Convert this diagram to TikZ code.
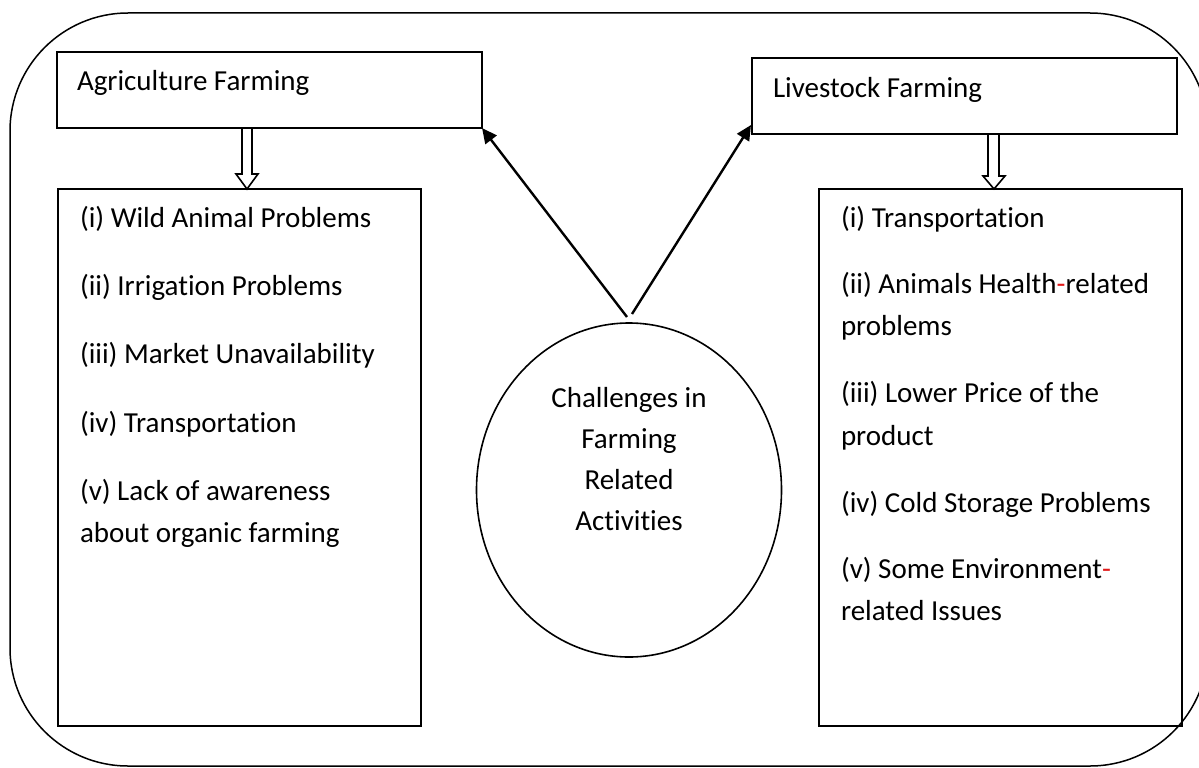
\documentclass[tikz,border=0pt]{standalone}
\usepackage{fontspec}
\setmainfont{Carlito}[Ligatures=NoCommon]
\usetikzlibrary{arrows.meta,calc,shapes.geometric}
\definecolor{hyred}{RGB}{225,25,25}
\begin{document}
\begin{tikzpicture}[x=1pt,y=-1pt,
  frame/.style={draw=black,line width=1.5pt,rounded corners=118pt},
  box/.style={draw=black,line width=1.8pt,rectangle,inner sep=0pt,outer sep=0pt,anchor=north west},
  oval/.style={draw=black,line width=1.6pt,ellipse,inner sep=0pt,outer sep=0pt,minimum width=305pt,minimum height=334pt},
  txt/.style={inner sep=0pt,outer sep=0pt,anchor=base west,font=\fontsize{29}{41}\selectfont},
  ctxt/.style={inner sep=0pt,outer sep=0pt,anchor=base,font=\fontsize{29}{41}\selectfont},
  conn/.style={draw=black,line width=2.4pt,-{Triangle[length=15pt,width=14pt]}},
  hollow/.style={draw=black,line width=1.6pt,fill=white,line join=miter}]
\useasboundingbox (0,0) rectangle (1199,768);
\draw[frame] (10,13) rectangle (1208,766);
% boxes
\node[box,minimum width=425pt,minimum height=76pt] (agri) at (57,52) {};
\node[box,minimum width=425pt,minimum height=76pt] (live) at (752,58) {};
\node[box,minimum width=363pt,minimum height=537pt] (llist) at (58,189) {};
\node[box,minimum width=363pt,minimum height=537pt] (rlist) at (819,189) {};
\node[oval] (core) at (629,490) {};
% headers
\node[txt] (agrit) at (77,90) {Agriculture Farming};
\node[txt] (livet) at (773,97) {Livestock Farming};
% centre text
\node[ctxt] (c1) at (629,407) {Challenges in};
\node[ctxt] (c2) at (629,448) {Farming};
\node[ctxt] (c3) at (629,489) {Related};
\node[ctxt] (c4) at (629,530) {Activities};
% left list
\node[txt] (l1) at (80,227) {(i) Wild Animal Problems};
\node[txt] (l2) at (80,295) {(ii) Irrigation Problems};
\node[txt] (l3) at (80,363) {(iii) Market Unavailability};
\node[txt] (l4) at (80,432) {(iv) Transportation};
\node[txt] (l5) at (80,500) {(v) Lack of awareness};
\node[txt] (l6) at (80,542) {about organic farming};
% right list
\node[txt] (r1) at (841,227) {(i) Transportation};
\node[txt] (r2) at (841,293) {(ii) Animals Health\textcolor{hyred}{-}related};
\node[txt] (r3) at (841,335) {problems};
\node[txt] (r4) at (841,402) {(iii) Lower Price of the};
\node[txt] (r5) at (841,445) {product};
\node[txt] (r6) at (841,512) {(iv) Cold Storage Problems};
\node[txt] (r7) at (841,578) {(v) Some Environment\textcolor{hyred}{-}};
\node[txt] (r8) at (841,620) {related Issues};
% connectors
\coordinate (s1) at (627,317);
\coordinate (s2) at (632,314);
\draw[conn] (s1) -- (agri.south east);
\draw[conn] (s2) -- ($(live.south west)+(-1,-9)$);
% hollow block arrows
\draw[hollow] (242,128) -- (242,174) -- (236,174) -- (247,189) -- (258,174) -- (252,174) -- (252,128) -- cycle;
\draw[hollow] (988,134) -- (988,176) -- (983,176) -- (994,189) -- (1005,176) -- (999,176) -- (999,134) -- cycle;
\end{tikzpicture}
\end{document}
